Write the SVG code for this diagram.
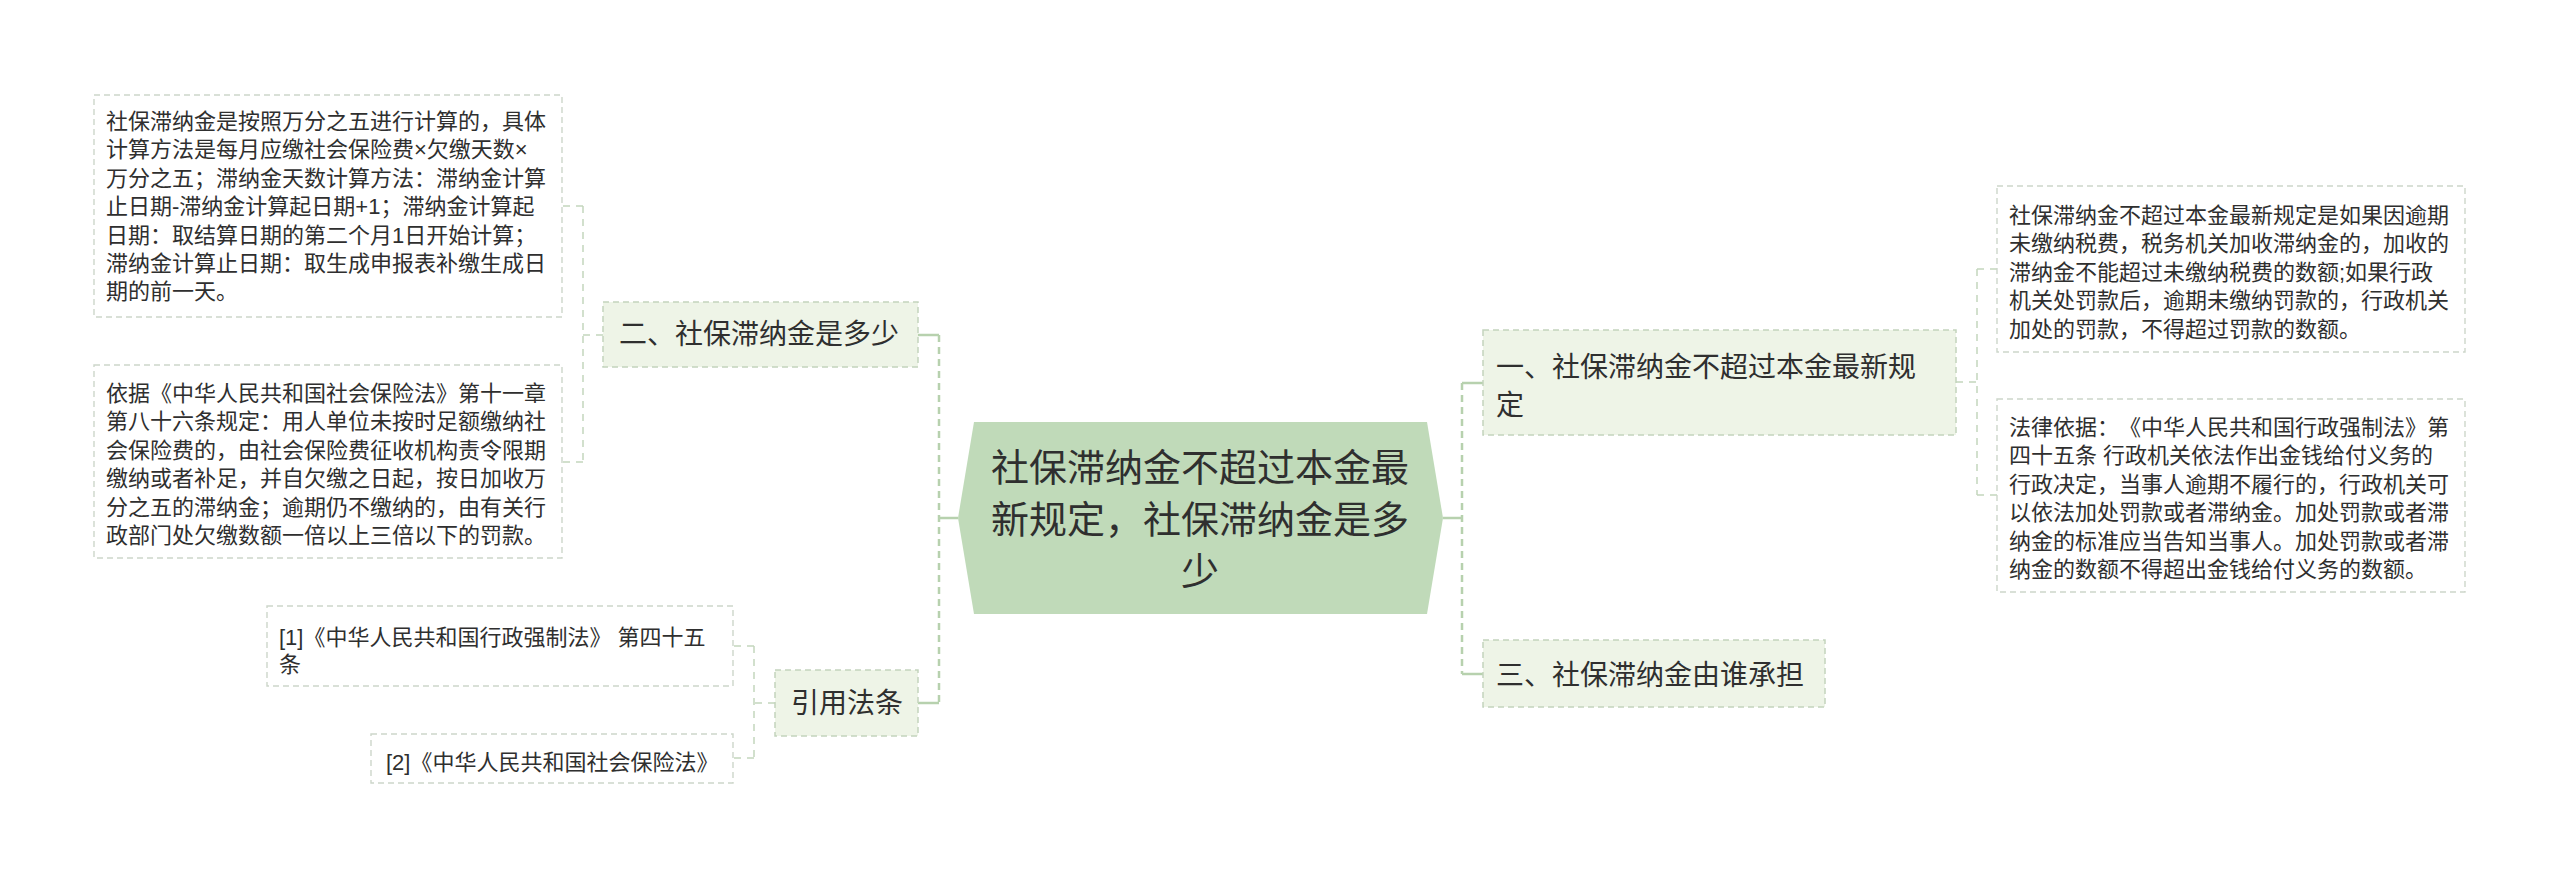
<svg xmlns="http://www.w3.org/2000/svg" width="2560" height="880" viewBox="0 0 2560 880">
<style>
.t{font-family:"Liberation Sans","Noto Sans CJK SC",sans-serif;fill:#2f2f2f;text-spacing-trim:space-all}
.c{font-size:38px}
.m{font-size:28px}
.s{font-size:22px}
.main{fill:#c0dab9}
.lv1{fill:#eef4e7;stroke:#c3d4bd;stroke-width:1.5;stroke-dasharray:6 4}
.leaf{fill:#fff;stroke:#cdd6ca;stroke-width:1.4;stroke-dasharray:6 4}
.cm{fill:none;stroke:#b7d1ae;stroke-width:2.5}
.cmd{fill:none;stroke:#b7d1ae;stroke-width:2.5;stroke-dasharray:7 5}
.cs{fill:none;stroke:#c4d6bd;stroke-width:1.5;stroke-dasharray:7 6}
</style>
<rect width="2560" height="880" fill="#fff"/>
<g id="connectors">
<path class="cm" d="M958,518 H939"/>
<path class="cmd" d="M939,335 V703"/>
<path class="cm" d="M939,335 H918 M939,703 H918"/>
<path class="cm" d="M1443,518 H1462"/>
<path class="cmd" d="M1462,383 V674"/>
<path class="cm" d="M1462,383 H1483 M1462,674 H1483"/>
<path class="cs" d="M603,335 H583 M583,206 V462 M583,206 H562 M583,462 H562"/>
<path class="cs" d="M775,703 H754 M754,646 V758 M754,646 H733 M754,758 H733"/>
<path class="cs" d="M1956,382 H1977 M1977,269 V495 M1977,269 H1997 M1977,495 H1997"/>
</g>
<g id="root">
<polygon class="main" points="958,518 974,422 1427,422 1443,518 1427,614 974,614"/>
<text class="t c" text-anchor="middle"><tspan x="1200" y="481">社保滞纳金不超过本金最</tspan><tspan x="1200" y="533">新规定，社保滞纳金是多</tspan><tspan x="1200" y="585">少</tspan></text>
</g>
<g id="n-er">
<rect class="lv1" x="603" y="302" width="315" height="65"/>
<text class="t m" x="619" y="344">二、社保滞纳金是多少</text>
</g>
<g id="n-yin">
<rect class="lv1" x="775" y="670" width="143" height="66"/>
<text class="t m" x="791" y="713">引用法条</text>
</g>
<g id="n-yi">
<rect class="lv1" x="1483" y="330" width="473" height="105"/>
<text class="t m"><tspan x="1496" y="377">一、社保滞纳金不超过本金最新规</tspan><tspan x="1496" y="415">定</tspan></text>
</g>
<g id="n-san">
<rect class="lv1" x="1483" y="640" width="342" height="67"/>
<text class="t m" x="1496" y="685">三、社保滞纳金由谁承担</text>
</g>
<g id="leaf-l1">
<rect class="leaf" x="94" y="95" width="468" height="222"/>
<text class="t s"><tspan x="106" y="129">社保滞纳金是按照万分之五进行计算的，具体</tspan><tspan x="106" y="157.4">计算方法是每月应缴社会保险费×欠缴天数×</tspan><tspan x="106" y="185.8">万分之五；滞纳金天数计算方法：滞纳金计算</tspan><tspan x="106" y="214.2">止日期-滞纳金计算起日期+1；滞纳金计算起</tspan><tspan x="106" y="242.6">日期：取结算日期的第二个月1日开始计算；</tspan><tspan x="106" y="271">滞纳金计算止日期：取生成申报表补缴生成日</tspan><tspan x="106" y="299.4">期的前一天。</tspan></text>
</g>
<g id="leaf-l2">
<rect class="leaf" x="94" y="365" width="468" height="193"/>
<text class="t s"><tspan x="106" y="401">依据《中华人民共和国社会保险法》第十一章</tspan><tspan x="106" y="429.4">第八十六条规定：用人单位未按时足额缴纳社</tspan><tspan x="106" y="457.8">会保险费的，由社会保险费征收机构责令限期</tspan><tspan x="106" y="486.2">缴纳或者补足，并自欠缴之日起，按日加收万</tspan><tspan x="106" y="514.6">分之五的滞纳金；逾期仍不缴纳的，由有关行</tspan><tspan x="106" y="543">政部门处欠缴数额一倍以上三倍以下的罚款。</tspan></text>
</g>
<g id="leaf-ref1">
<rect class="leaf" x="267" y="606" width="466" height="80"/>
<text class="t s"><tspan x="279" y="645">[1]《中华人民共和国行政强制法》 第四十五</tspan><tspan x="279" y="672">条</tspan></text>
</g>
<g id="leaf-ref2">
<rect class="leaf" x="371" y="734" width="362" height="49"/>
<text class="t s" x="386" y="770">[2]《中华人民共和国社会保险法》</text>
</g>
<g id="leaf-r1">
<rect class="leaf" x="1997" y="186" width="468" height="166"/>
<text class="t s"><tspan x="2009" y="223">社保滞纳金不超过本金最新规定是如果因逾期</tspan><tspan x="2009" y="251.4">未缴纳税费，税务机关加收滞纳金的，加收的</tspan><tspan x="2009" y="279.8">滞纳金不能超过未缴纳税费的数额;如果行政</tspan><tspan x="2009" y="308.2">机关处罚款后，逾期未缴纳罚款的，行政机关</tspan><tspan x="2009" y="336.6">加处的罚款，不得超过罚款的数额。</tspan></text>
</g>
<g id="leaf-r2">
<rect class="leaf" x="1997" y="399" width="468" height="193"/>
<text class="t s"><tspan x="2009" y="435">法律依据：《中华人民共和国行政强制法》第</tspan><tspan x="2009" y="463.4">四十五条 行政机关依法作出金钱给付义务的</tspan><tspan x="2009" y="491.8">行政决定，当事人逾期不履行的，行政机关可</tspan><tspan x="2009" y="520.2">以依法加处罚款或者滞纳金。加处罚款或者滞</tspan><tspan x="2009" y="548.6">纳金的标准应当告知当事人。加处罚款或者滞</tspan><tspan x="2009" y="577">纳金的数额不得超出金钱给付义务的数额。</tspan></text>
</g>
</svg>
